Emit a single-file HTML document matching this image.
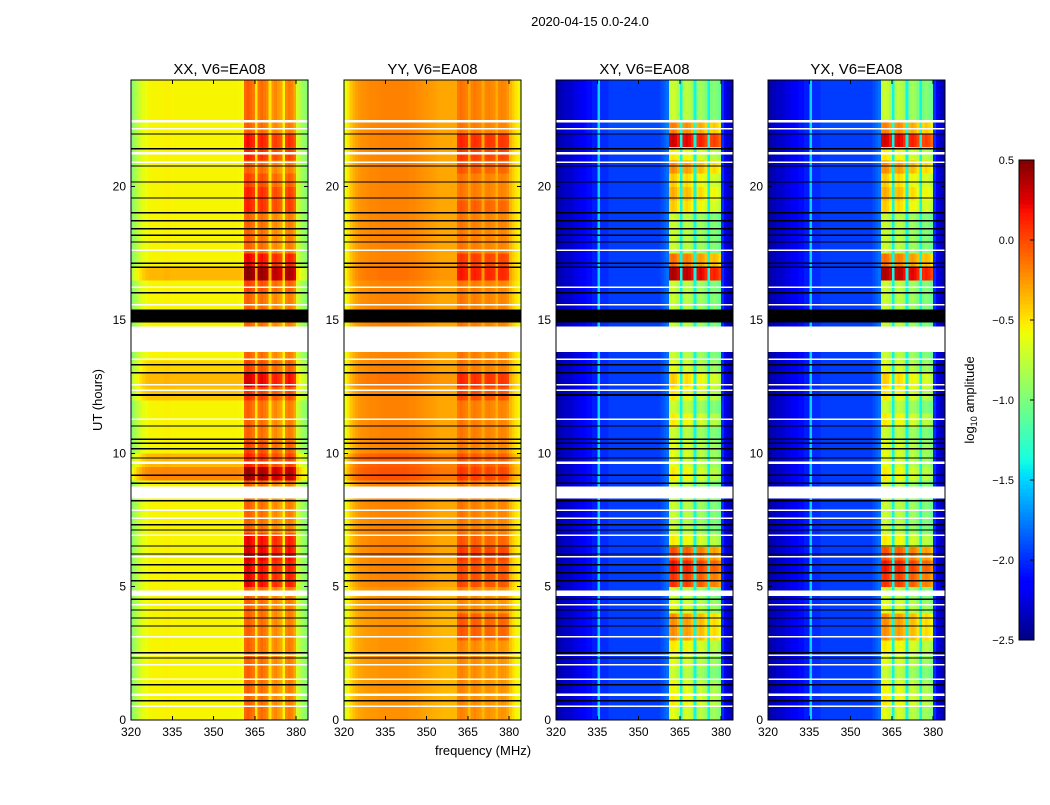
<!DOCTYPE html>
<html><head><meta charset="utf-8">
<style>
body{margin:0;background:#fff;}
svg text{font-family:"Liberation Sans",sans-serif;}
</style></head>
<body>
<svg id="fig" width="1050" height="800" xmlns="http://www.w3.org/2000/svg" shape-rendering="crispEdges">
<rect width="1050" height="800" fill="#fff"/>
<text x="590" y="26" font-size="13" text-anchor="middle">2020-04-15 0.0-24.0</text>
<text x="483" y="755" font-size="13" text-anchor="middle">frequency (MHz)</text>
<text transform="translate(102,400) rotate(-90)" font-size="13" text-anchor="middle">UT (hours)</text>
<g id="panels"></g>
<g id="cbar"></g>
<text transform="translate(974,400) rotate(-90)" font-size="13" text-anchor="middle">log<tspan font-size="9" dy="3">10</tspan><tspan dy="-3"> amplitude</tspan></text>
</svg>
<script>
// ---- data ----
const panelTitles = ["XX, V6=EA08","YY, V6=EA08","XY, V6=EA08","YX, V6=EA08"];
const xTicks = [320,335,350,365,380];
const yTicks = [0,5,10,15,20];
const cbTicks = [0.5,0.0,-0.5,-1.0,-1.5,-2.0,-2.5];
const cbLabels = ["0.5","0.0","\u22120.5","\u22121.0","\u22121.5","\u22122.0","\u22122.5"];
// frequency bins 320..384 MHz (1 MHz)
const bandMask = [0,0,0,0,0,0,0,0,0,0, 0,0,0,0,0,0,0,0,0,0, 0,0,0,0,0,0,0,0,0,0, 0,0,0,0,0,0,0,0,0,0, 0,1,1,1,1,0,1,1,1,1, 0,1,1,1,1,0,1,1,1,1, 0,0,0,0,0];
const xxProf = [-0.95,-0.85,-0.75,-0.68,-0.62,-0.58,-0.56,-0.55,-0.55,-0.55, -0.55,-0.55,-0.54,-0.54,-0.55,-0.55,-0.55,-0.55,-0.55,-0.55, -0.55,-0.55,-0.55,-0.55,-0.55,-0.55,-0.55,-0.55,-0.55,-0.55, -0.55,-0.55,-0.55,-0.55,-0.55,-0.55,-0.55,-0.55,-0.55,-0.56, -0.58,-0.1,-0.05,-0.1,-0.15,-0.5,-0.15,-0.1,-0.15,-0.2, -0.5,-0.25,-0.2,-0.25,-0.3,-0.55,-0.2,-0.15,-0.2,-0.3, -0.7,-0.8,-0.88,-0.95,-1.0];
const yyProf = [-0.6,-0.5,-0.4,-0.33,-0.28,-0.25,-0.23,-0.22,-0.21,-0.2, -0.2,-0.2,-0.19,-0.18,-0.18,-0.18,-0.18,-0.18,-0.18,-0.18, -0.18,-0.18,-0.18,-0.19,-0.2,-0.2,-0.21,-0.22,-0.23,-0.24, -0.25,-0.26,-0.27,-0.28,-0.29,-0.3,-0.3,-0.3,-0.3,-0.3, -0.3,-0.15,-0.12,-0.15,-0.18,-0.3,-0.18,-0.15,-0.18,-0.2, -0.3,-0.2,-0.18,-0.2,-0.22,-0.32,-0.2,-0.18,-0.2,-0.25, -0.35,-0.42,-0.5,-0.55,-0.6];
const xyProf = [-2.4,-2.35,-2.35,-2.3,-2.3,-2.3,-2.25,-2.25,-2.2,-2.2, -2.15,-2.1,-2.1,-2.05,-2.05,-1.5,-2.0,-2.0,-2.0,-1.95, -1.95,-1.95,-1.95,-1.95,-1.95,-1.95,-1.95,-1.95,-1.95,-1.95, -1.95,-1.95,-1.95,-1.95,-1.95,-1.95,-1.95,-1.95,-1.9,-1.85, -1.8,-0.75,-0.7,-0.75,-0.85,-1.4,-0.8,-0.75,-0.8,-0.9, -1.4,-0.9,-0.85,-0.9,-1.0,-1.4,-1.0,-0.95,-1.0,-1.1, -2.0,-2.2,-2.3,-2.35,-2.4];
// time bins 0..24 h (0.5 h)
const xxLevel = [0,0,0,0,0,0,0,0,0,0, 0,0,0,0,0,0,0,0,0.35,0.2, 0,0,0,0,0.15,0.2,0.1,0,0,0, 0,0,0,0.2,0,0,0,0,0,0, 0,0,0,0,0,0,0,0];
const xxBoost = [0,0,0,0,0,0,0,0,0,0, 0.3,0.3,0.35,0.3,0,0,0,0,0.15,0, 0.1,0,0,0,0,0.15,0,0,0,0, 0,0,0.1,0.35,0.3,0,0,0,0.2,0.2, 0.1,0,0.2,0.25,0,0,0,0];
const yyLevel = [-0.05,-0.05,-0.05,-0.05,-0.05,-0.05,-0.05,-0.05,-0.05,-0.05, 0,0,0,0,0,0,0,0,0.15,0.12, 0,0,0,0,0,0.05,0,0,0,0, 0,0,0,0.05,0,0,0,0,0,0, 0,0,0,0,0,0,0,0];
const yyBoost = [0,0,0,0,0,0,0.15,0.15,0,0, 0.15,0.15,0.2,0.1,0,0,0,0,0.05,0, 0,0,0,0,0.15,0.2,0,0,0,0, 0,0,0,0.25,0.2,0,0,0,0.1,0,0, 0.1,0.2,0.25,0,0,0,0];
const xyLevel = [0,0,0,0,0,0,0,0,0,0, 0,0,0,0,0,0,0,0,0,0, 0,0,0,0,0,0,0,0,0,0, 0,0,0,0,0,0,0,0,0,0, 0,0,0,0,0.05,0,0,0];
const xyBoost = [0.1,0.2,0.15,0,0.1,0.2,0.5,0.5,0.1,0, 0.8,0.9,0.7,0.2,0,0,0,0,0.2,0.1, 0.1,0,0.2,0,0.2,0.3,0.1,0,0,0, 0,0,0,1.1,0.6,0,0,0,0.3,0.4, 0.3,0.5,0.2,1.0,0.5,0,0,0];
// flagged (white) and black rows, in hours [start,end]
const whiteRows = [[13.8,14.75],[8.3,8.75],[4.65,4.85],[0.9,1.0],[22.4,22.5],[22.15,22.2],[21.2,21.3],[20.9,20.95],[17.6,17.65],[16.2,16.25],[13.5,13.55],[12.55,12.6],[12.35,12.4],[11.25,11.3],[9.6,9.7],[7.85,7.9],[7.55,7.6],[6.9,6.95],[6.1,6.15],[3.1,3.15],[2.4,2.45],[2.05,2.1],[1.5,1.55],[0.5,0.55],[15.55,15.6],[4.3,4.35]];
const blackRows = [[14.9,15.4],[21.95,22.0],[21.4,21.45],[20.75,20.8],[20.15,20.2],[19.55,19.6],[19.0,19.05],[18.7,18.75],[18.4,18.45],[18.15,18.2],[17.9,17.95],[17.1,17.15],[16.95,17.0],[16.0,16.05],[13.3,13.35],[13.0,13.05],[12.15,12.22],[11.0,11.05],[10.5,10.55],[10.35,10.4],[10.15,10.2],[9.8,9.85],[9.15,9.2],[8.85,8.9],[8.2,8.25],[7.3,7.35],[7.1,7.15],[6.5,6.55],[6.2,6.25],[5.8,5.85],[5.5,5.55],[5.2,5.25],[4.5,4.55],[4.1,4.15],[3.8,3.85],[3.5,3.55],[2.5,2.55],[2.3,2.35],[1.3,1.35],[0.7,0.75]];

// ---- rendering ----
const NS="http://www.w3.org/2000/svg";
function seg(pts,x){for(let i=1;i<pts.length;i++){if(x<=pts[i][0]){const [x0,y0]=pts[i-1],[x1,y1]=pts[i];return y0+(y1-y0)*(x-x0)/(x1-x0);}}return pts[pts.length-1][1];}
const RS=[[0,0],[0.35,0],[0.66,1],[0.89,1],[1,0.5]];
const GS=[[0,0],[0.125,0],[0.375,1],[0.64,1],[0.91,0],[1,0]];
const BS=[[0,0.5],[0.11,1],[0.34,1],[0.65,0],[1,0]];
function jet(v){
  return `rgb(${Math.round(seg(RS,v)*255)},${Math.round(seg(GS,v)*255)},${Math.round(seg(BS,v)*255)})`;
}
const vmin=-2.5,vmax=0.5;
const norm=v=>(Math.max(vmin,Math.min(vmax,v))-vmin)/(vmax-vmin);
const PT=80,PB=720,PW=177,FMIN=320,PXPM=2.753,TMAX=24;
const lefts=[131,344,556,768];
function mk(tag,attrs,parent){const e=document.createElementNS(NS,tag);for(const k in attrs)e.setAttribute(k,attrs[k]);parent.appendChild(e);return e;}
const yS=h=>PB-(h/TMAX)*(PB-PT);
const profiles=[xxProf,yyProf,xyProf,xyProf];
const levels=[xxLevel,yyLevel,xyLevel,xyLevel];
const boosts=[xxBoost,yyBoost,xyBoost,xyBoost];
const root=document.getElementById('panels');
const svg=document.getElementById('fig');
const defs=mk('defs',{},svg);
lefts.forEach((L,p)=>{
  const xS=f=>L+(f-FMIN)*PXPM;
  const g=mk('g',{},root);
  
  
  const cp=mk('clipPath',{id:'cp'+p},defs);
  mk('rect',{x:L,y:PT,width:PW,height:PB-PT},cp);
  const hm=mk('g',{'clip-path':'url(#cp'+p+')'},g);
  
  
  const prof=profiles[p],lev=levels[p],bst=boosts[p];
  const dt=TMAX/lev.length;
  for(let t=0;t<lev.length;t++){
    const y0=yS((t+1)*dt),y1=yS(t*dt);
    for(let f=0;f<prof.length;f++){
      const v=prof[f]+lev[t]+bandMask[f]*bst[t];
      const r=mk('rect',{x:xS(FMIN+f).toFixed(2),y:y0.toFixed(2),width:(PXPM+0.3).toFixed(2),height:(y1-y0+0.3).toFixed(2),fill:jet(norm(v))},hm);
      
      
    }
  }
  whiteRows.forEach(([a,b])=>{const r=mk('rect',{x:L,y:yS(b),width:PW,height:Math.max(1.5,yS(a)-yS(b)),fill:'#fff'},hm);
    });
  blackRows.forEach(([a,b])=>{const r=mk('rect',{x:L,y:yS(b),width:PW,height:Math.max(1.3,yS(a)-yS(b)),fill:'#000'},hm);
    });
  const fr=mk('rect',{x:L,y:PT,width:PW,height:PB-PT,fill:'none',stroke:'#000','stroke-width':1},g);
  
  const tt=mk('text',{x:L+PW/2,y:PT-6,'font-size':15,'text-anchor':'middle'},g);
  tt.textContent=panelTitles[p];
  
  xTicks.forEach(v=>{const x=xS(v);
    mk('line',{x1:x,x2:x,y1:PB,y2:PB-4,stroke:'#000'},g);mk('line',{x1:x,x2:x,y1:PT,y2:PT+4,stroke:'#000'},g);
    const tx=mk('text',{x:x,y:PB+16,'font-size':12,'text-anchor':'middle'},g);tx.textContent=v;
    });
  yTicks.forEach(v=>{const y=yS(v);
    mk('line',{x1:L,x2:L+4,y1:y,y2:y,stroke:'#000'},g);mk('line',{x1:L+PW,x2:L+PW-4,y1:y,y2:y,stroke:'#000'},g);
    const tx=mk('text',{x:L-5,y:y+4,'font-size':12,'text-anchor':'end'},g);tx.textContent=v;
    });
});
// colorbar
const cb=document.getElementById('cbar');
const CX=1019,CW=15,CT=160,CB=640;
for(let i=0;i<120;i++){
  mk('rect',{x:CX,y:(CB-(i+1)*(CB-CT)/120).toFixed(2),width:CW,height:((CB-CT)/120+0.5).toFixed(2),fill:jet((i+0.5)/120)},cb);
}
mk('rect',{x:CX,y:CT,width:CW,height:CB-CT,fill:'none',stroke:'#000'},cb);
cbTicks.forEach((v,i)=>{const y=CB-(v-vmin)/(vmax-vmin)*(CB-CT);
  mk('line',{x1:CX+CW-4,x2:CX+CW,y1:y,y2:y,stroke:'#000'},cb);
  const t=mk('text',{x:CX-5,y:y+4,'font-size':11,'text-anchor':'end'},cb);t.textContent=cbLabels[i];
  });
</script>
</body></html>
